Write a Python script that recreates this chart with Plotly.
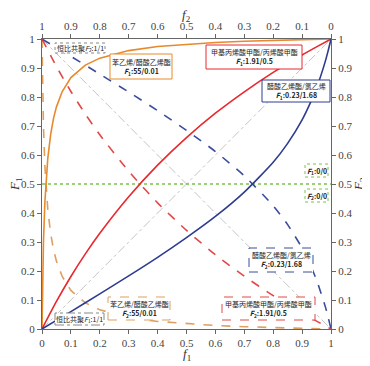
import plotly.graph_objects as go

# ---- data ----
tick_vals = [0, 0.1, 0.2, 0.3, 0.4, 0.5, 0.6, 0.7, 0.8, 0.9, 1]
tick_text = ["0", "0.1", "0.2", "0.3", "0.4", "0.5", "0.6", "0.7", "0.8", "0.9", "1"]

# styrene / vinyl acetate (r1=55, r2=0.01)
st_f1 = [0, 0.001, 0.002, 0.005, 0.01, 0.015, 0.02, 0.03, 0.04, 0.05, 0.07, 0.1, 0.15, 0.2, 0.3, 0.4, 0.5, 0.6, 0.7, 0.8, 0.9, 1]
st_F1 = [0, 0.088, 0.156, 0.299, 0.439, 0.527, 0.588, 0.671, 0.727, 0.766, 0.819, 0.867, 0.910, 0.934, 0.960, 0.974, 0.982, 0.988, 0.992, 0.996, 0.998, 1]
st_F2 = [1, 0.912, 0.844, 0.701, 0.561, 0.473, 0.412, 0.329, 0.273, 0.234, 0.181, 0.133, 0.090, 0.066, 0.040, 0.026, 0.018, 0.012, 0.008, 0.004, 0.002, 0]

# MMA / methyl acrylate (r1=1.91, r2=0.5)
mm_f1 = [0, 0.05, 0.1, 0.15, 0.2, 0.3, 0.4, 0.5, 0.6, 0.7, 0.8, 0.9, 0.95, 1]
mm_F1 = [0, 0.095, 0.181, 0.259, 0.330, 0.456, 0.565, 0.660, 0.744, 0.818, 0.885, 0.945, 0.973, 1]
mm_F2 = [1, 0.905, 0.819, 0.741, 0.670, 0.544, 0.435, 0.340, 0.256, 0.182, 0.115, 0.055, 0.027, 0]

# vinyl acetate / vinyl chloride (r1=0.23, r2=1.68)
va_f1 = [0, 0.1, 0.2, 0.3, 0.4, 0.5, 0.6, 0.7, 0.8, 0.85, 0.9, 0.93, 0.95, 0.98, 0.99, 1]
va_F1 = [0, 0.060, 0.121, 0.183, 0.247, 0.315, 0.388, 0.472, 0.575, 0.640, 0.721, 0.783, 0.831, 0.922, 0.959, 1]
va_F2 = [1, 0.940, 0.879, 0.817, 0.753, 0.685, 0.612, 0.528, 0.425, 0.360, 0.279, 0.217, 0.169, 0.078, 0.041, 0]

# ideal (1/1) and alternating (0/0)
id_f1 = [0, 1]
id_F1 = [0, 1]
id_F2 = [1, 0]
alt_f1 = [0, 1]
alt_F = [0.5, 0.5]

ORANGE = "#E8892B"
ORANGE_D = "#DDA060"
RED = "#E8282C"
RED_D = "#E34848"
BLUE = "#2E3C8F"
BLUE_D = "#3C4C9C"
GREEN = "#7CC24A"
GREY = "#BDBDBD"

fig = go.Figure()

def line(x, y, color, width, dash="solid", shape="spline"):
    fig.add_trace(go.Scatter(x=x, y=y, mode="lines",
                             line=dict(color=color, width=width, dash=dash, shape=shape, smoothing=0.6),
                             showlegend=False, hoverinfo="skip"))

line(id_f1, id_F1, GREY, 0.9, "dashdot", "linear")
line(id_f1, id_F2, GREY, 0.9, "dashdot", "linear")
line(alt_f1, alt_F, GREEN, 1.4, "dot", "linear")
line(st_f1, st_F2, ORANGE_D, 1.6, "dash", "linear")
line(mm_f1, mm_F2, RED_D, 1.6, "dash")
line(va_f1, va_F2, BLUE_D, 1.6, "dash")
line(st_f1, st_F1, ORANGE, 1.6, "solid", "linear")
line(mm_f1, mm_F1, RED, 1.6)
line(va_f1, va_F1, BLUE, 1.6)
fig.add_trace(go.Scatter(x=[mm_f1[0]], y=[mm_F2[0]], mode="markers",
                         marker=dict(color=RED, size=4), showlegend=False, hoverinfo="skip"))
# invisible trace to activate secondary axes
fig.add_trace(go.Scatter(x=[0, 1], y=[0, 1], xaxis="x2", yaxis="y2", mode="markers",
                         marker=dict(opacity=0), showlegend=False, hoverinfo="skip"))

TICKFONT = dict(family="Liberation Serif", size=11, color="#444")
axis_common = dict(range=[0, 1], tickvals=tick_vals, ticktext=tick_text, ticks="outside",
                   ticklen=4, tickcolor="#666", showline=True, linecolor="#666", linewidth=1,
                   showgrid=False, zeroline=False, tickfont=TICKFONT, fixedrange=True,
                   automargin=False)

# page has an 8px body margin, so plot area (screen 42..331 x 39..329) -> figure 34..323 x 31..321
fig.update_layout(
    width=370, height=366, margin=dict(l=34, r=47, t=31, b=45),
    paper_bgcolor="white", plot_bgcolor="white",
    xaxis=dict(**axis_common),
    yaxis=dict(**axis_common),
    xaxis2=dict(**{**axis_common, "range": [1, 0]}, overlaying="x", side="top", anchor="y"),
    yaxis2=dict(**axis_common, overlaying="y", side="right", anchor="x"),
)

TF = dict(family="Liberation Serif", size=13, color="#333")

# screen pixel -> paper coordinates
def X(px):
    return (px - 42) / 289
def Y(py):
    return (329 - py) / 290

fig.add_annotation(text="<i>f</i><sub>1</sub>", x=0.5, y=Y(354), xref="paper", yref="paper",
                   showarrow=False, font=TF, yanchor="middle")
fig.add_annotation(text="<i>f</i><sub>2</sub>", x=0.5, y=Y(15), xref="paper", yref="paper",
                   showarrow=False, font=TF, yanchor="middle")
fig.add_annotation(text="<i>F</i><sub>1</sub>", x=X(15), y=0.5, xref="paper", yref="paper",
                   showarrow=False, font=TF, textangle=-90, xanchor="center", yanchor="middle")
fig.add_annotation(text="<i>F</i><sub>2</sub>", x=X(359), y=0.5, xref="paper", yref="paper",
                   showarrow=False, font=TF, textangle=-90, xanchor="center", yanchor="middle")

CJK = "Noto Sans CJK SC"
def box(x0, y0, x1, y1, color, dash, text):
    fig.add_shape(type="rect", xref="paper", yref="paper", x0=X(x0), x1=X(x1), y0=Y(y1), y1=Y(y0),
                  line=dict(color=color, width=1, dash=dash), fillcolor="white", layer="above")
    fig.add_annotation(text=text, x=(X(x0) + X(x1)) / 2, y=(Y(y0) + Y(y1)) / 2, xref="paper", yref="paper",
                       showarrow=False, font=dict(family=CJK, size=7, color="#222"),
                       xanchor="center", yanchor="middle", align="center")

def two(name, tag):
    return name + "<br><b><i>F</i><sub>" + tag[0] + "</sub>" + tag[1:] + "</b>"

box(55, 43, 105, 53, "#888", "dot", "恒比共聚<i>F</i><sub>2</sub>:1/1")
box(110, 54, 172, 79, ORANGE, "solid", two("苯乙烯/醋酸乙烯酯", "1:55/0.01"))
box(206, 45, 302, 69, RED, "solid", two("甲基丙烯酸甲酯/丙烯酸甲酯", "1:1.91/0.5"))
box(262, 80, 330, 102, BLUE, "solid", two("醋酸乙烯酯/氯乙烯", "1:0.23/1.68"))
box(305, 164, 328, 177, GREEN, "dot", "<b><i>F</i><sub>1</sub>:0/0</b>")
box(305, 189, 328, 202, GREEN, "dot", "<b><i>F</i><sub>2</sub>:0/0</b>")
box(249, 248, 313, 272, BLUE_D, "dash", two("醋酸乙烯酯/氯乙烯", "2:0.23/1.68"))
box(222, 297, 315, 320, RED_D, "dash", two("甲基丙烯酸甲酯/丙烯酸甲酯", "2:1.91/0.5"))
box(108, 297, 170, 320, ORANGE_D, "dash", two("苯乙烯/醋酸乙烯酯", "2:55/0.01"))
box(55, 313, 104, 325, "#888", "dashdot", "恒比共聚<i>F</i><sub>1</sub>:1/1")

fig.write_html("out.html")
